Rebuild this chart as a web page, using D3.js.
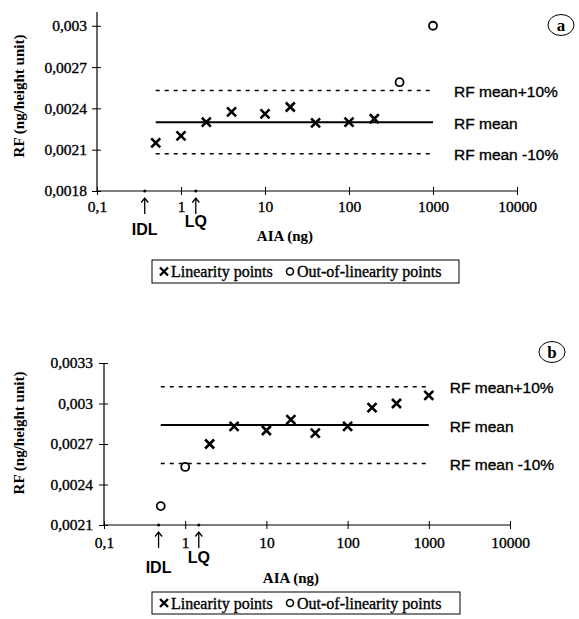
<!DOCTYPE html>
<html>
<head>
<meta charset="utf-8">
<script src="https://cdn.jsdelivr.net/npm/d3@7"></script>
<style>
  body { margin: 0; background: #fff; }
  svg { display: block; }
  .heavy { stroke: #000; stroke-width: 0.35px; }
</style>
</head>
<body>
<div id="chart-container"></div>
<script>
// AIA amounts injected (ng), same for both panels
const concentrations = [0.5, 1, 2, 4, 10, 20, 40, 100, 200, 400, 1000];

// panel a
const rfA = [0.00215, 0.0022, 0.0023, 0.002375, 0.00236, 0.00241, 0.002295, 0.0023, 0.002325, 0.00259, 0.003];
const outA = [false, false, false, false, false, false, false, false, false, true, true];
const meanA = 0.0023;
const yTicksA = [0.0018, 0.0021, 0.0024, 0.0027, 0.003];
const idlA = 0.37, lqA = 1.5;

// panel b
const rfB = [0.00224, 0.00253, 0.0027, 0.00283, 0.0028, 0.00288, 0.00278, 0.00283, 0.00297, 0.003, 0.00306];
const outB = [true, true, false, false, false, false, false, false, false, false, false];
const meanB = 0.00284;
const yTicksB = [0.0021, 0.0024, 0.0027, 0.003, 0.0033];
const idlB = 0.47, lqB = 1.47;

const xTicks = [0.1, 1, 10, 100, 1000, 10000];
const xTickLabels = ["0,1", "1", "10", "100", "1000", "10000"];

const serif = "'Liberation Serif', 'Times New Roman', serif";
const sans = "'Liberation Sans', Arial, sans-serif";

const width = 579, height = 619;
const svg = d3.create("svg")
  .attr("width", width)
  .attr("height", height)
  .attr("viewBox", [0, 0, width, height]);

function panel(opts) {
  const {rf, out, mean, yTicks, idl, lq, letter} = opts;
  const x = d3.scaleLog().domain([0.1, 10000]).range(opts.xRange);
  const y = d3.scaleLinear().domain(opts.yDomain).range(opts.yRange);
  const g = svg.append("g");

  // y axis
  const yAxis = g.append("g")
    .attr("transform", `translate(${opts.xRange[0]},0)`)
    .call(d3.axisLeft(y).tickValues(yTicks).tickSize(5)
      .tickFormat(d => String(+d.toFixed(4)).replace(".", ",")));
  yAxis.select(".domain").attr("stroke-width", 1.2).attr("d", `M0,${opts.yRange[0]}V${opts.yRange[1]}`);
  yAxis.selectAll(".tick line").attr("x1", 4).attr("stroke-width", 1);
  yAxis.selectAll(".tick text")
    .attr("x", -opts.yLabelGap)
    .attr("class", "heavy")
    .style("font-family", serif).style("font-size", "15.5px").attr("fill", "#000");

  // x axis
  const xAxis = g.append("g")
    .attr("transform", `translate(0,${opts.yRange[0]})`)
    .call(d3.axisBottom(x).tickValues(xTicks).tickSize(4)
      .tickFormat((d, i) => xTickLabels[i]));
  xAxis.select(".domain").attr("stroke-width", 1.2).attr("d", `M${opts.xRange[0]},0H${opts.xRange[1]}`);
  xAxis.selectAll(".tick line").attr("y1", -4);
  xAxis.selectAll(".tick text")
    .attr("y", opts.xLabelDy)
    .attr("class", "heavy")
    .style("font-family", serif).style("font-size", "15.5px").attr("fill", "#000");

  // axis titles
  g.append("text")
    .attr("transform", `translate(${opts.yTitlePos[0]},${opts.yTitlePos[1]}) rotate(-90)`)
    .attr("text-anchor", "middle")
    .style("font-family", serif).style("font-size", "15px").style("font-weight", "bold")
    .text("RF (ng/height unit)");
  g.append("text")
    .attr("x", opts.xTitlePos[0]).attr("y", opts.xTitlePos[1])
    .attr("text-anchor", "middle")
    .style("font-family", serif).style("font-size", "15px").style("font-weight", "bold")
    .text("AIA (ng)");

  // mean and +-10% lines
  const [x0, x1] = d3.extent(concentrations);
  const lines = [
    {v: mean * 1.1, dash: "4,5", w: 1.4, label: "RF mean+10%"},
    {v: mean, dash: null, w: 2, label: "RF mean"},
    {v: mean * 0.9, dash: "4,5", w: 1.4, label: "RF mean -10%"}
  ];
  g.selectAll(".ref").data(lines).join("line")
    .attr("x1", x(x0)).attr("x2", x(x1))
    .attr("y1", d => y(d.v)).attr("y2", d => y(d.v))
    .attr("stroke", "#000").attr("stroke-width", d => d.w)
    .attr("stroke-dasharray", d => d.dash);
  g.selectAll(".reflabel").data(lines).join("text")
    .attr("x", x(x1) + 21).attr("y", d => y(d.v) + 1)
    .attr("dy", "0.35em")
    .attr("class", "heavy")
    .style("font-family", sans).style("font-size", "15.5px")
    .text(d => d.label);

  // points
  const pts = concentrations.map((c, i) => ({c, v: rf[i], out: out[i]}));
  g.selectAll(".cross").data(pts.filter(d => !d.out)).join("path")
    .attr("transform", d => `translate(${x(d.c)},${y(d.v)})`)
    .attr("d", "M-4.5,-4.5L4.5,4.5M-4.5,4.5L4.5,-4.5")
    .attr("stroke", "#000").attr("stroke-width", 2.6);
  g.selectAll(".ring").data(pts.filter(d => d.out)).join("circle")
    .attr("cx", d => x(d.c)).attr("cy", d => y(d.v)).attr("r", 4)
    .attr("fill", "#fff").attr("stroke", "#000").attr("stroke-width", 1.8);

  // IDL / LQ markers
  const marks = [
    {v: idl, label: "IDL", dy: opts.idlDy},
    {v: lq, label: "LQ", dy: opts.lqDy}
  ];
  const base = opts.yRange[0];
  marks.forEach(m => {
    const mx = x(m.v);
    g.append("circle").attr("cx", mx).attr("cy", base).attr("r", 1.5).attr("fill", "#000");
    g.append("path")
      .attr("d", `M${mx},${base + 7}V${base + 23}M${mx - 3.5},${base + 11.5}L${mx},${base + 7}L${mx + 3.5},${base + 11.5}`)
      .attr("fill", "none").attr("stroke", "#000").attr("stroke-width", 1.3);
    g.append("text")
      .attr("x", mx).attr("y", base + m.dy)
      .attr("text-anchor", "middle")
      .style("font-family", sans).style("font-size", "16px").style("font-weight", "bold")
      .text(m.label);
  });

  // circled panel letter
  g.append("ellipse")
    .attr("cx", opts.letterPos[0]).attr("cy", opts.letterPos[1])
    .attr("rx", 13).attr("ry", 10.5)
    .attr("fill", "none").attr("stroke", "#000").attr("stroke-width", 1);
  g.append("text")
    .attr("x", opts.letterPos[0]).attr("y", opts.letterPos[1])
    .attr("dy", "0.35em").attr("text-anchor", "middle")
    .style("font-family", serif).style("font-size", "17px").style("font-weight", "bold")
    .text(letter);

  // legend
  const [lx, ly, lw, lh] = opts.legendBox;
  const lg = g.append("g").attr("transform", `translate(${lx},${ly})`);
  lg.append("rect").attr("width", lw).attr("height", lh)
    .attr("fill", "#fff").attr("stroke", "#000").attr("stroke-width", 1);
  lg.append("path")
    .attr("transform", `translate(12,${lh / 2})`)
    .attr("d", "M-4,-4L4,4M-4,4L4,-4")
    .attr("stroke", "#000").attr("stroke-width", 2.4);
  lg.append("text").attr("x", 19).attr("y", lh / 2).attr("dy", "0.35em")
    .attr("class", "heavy")
    .style("font-family", serif).style("font-size", "16px")
    .text("Linearity points");
  lg.append("circle").attr("cx", 138).attr("cy", lh / 2).attr("r", 3.5)
    .attr("fill", "none").attr("stroke", "#000").attr("stroke-width", 1.6);
  lg.append("text").attr("x", 145).attr("y", lh / 2).attr("dy", "0.35em")
    .attr("class", "heavy")
    .style("font-family", serif).style("font-size", "16px")
    .text("Out-of-linearity points");
}

panel({
  rf: rfA, out: outA, mean: meanA, yTicks: yTicksA, idl: idlA, lq: lqA, letter: "a",
  xRange: [97, 517], yDomain: [0.0018, 0.0031], yRange: [191, 12],
  yLabelGap: 10, xLabelDy: 10, idlDy: 44, lqDy: 36,
  yTitlePos: [24, 96], xTitlePos: [285, 241],
  letterPos: [561, 25], legendBox: [152, 260, 307, 23]
});

panel({
  rf: rfB, out: outB, mean: meanB, yTicks: yTicksB, idl: idlB, lq: lqB, letter: "b",
  xRange: [104, 510], yDomain: [0.0021, 0.0033], yRange: [525, 363],
  yLabelGap: 11, xLabelDy: 12, idlDy: 48, lqDy: 38,
  yTitlePos: [24, 433], xTitlePos: [291, 583],
  letterPos: [552, 352], legendBox: [152, 592, 308, 22]
});

d3.select("#chart-container").append(() => svg.node());
</script>
</body>
</html>
